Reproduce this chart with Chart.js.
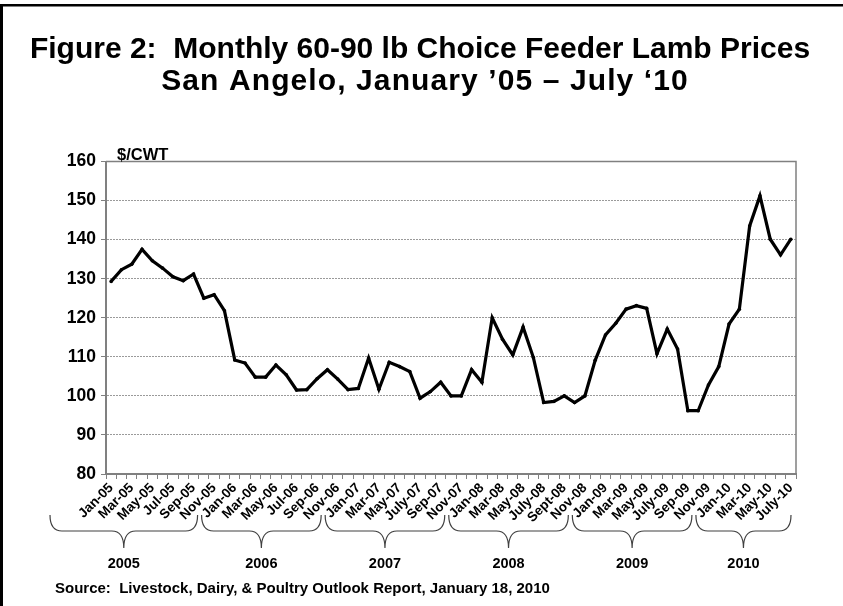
<!DOCTYPE html>
<html>
<head>
<meta charset="utf-8">
<script src="https://cdn.jsdelivr.net/npm/chart.js@4.4.0/dist/chart.umd.min.js"></script>
<style>
  html, body { margin: 0; padding: 0; background: #fff; }
  #wrap { position: relative; width: 843px; height: 606px; }
</style>
</head>
<body>
<div id="wrap"><canvas id="c"></canvas></div>
<script>
// Monthly categories, January 2005 through July 2010
const monthLabels = [
  'Jan-05','Feb-05','Mar-05','Apr-05','May-05','Jun-05','Jul-05','Aug-05','Sep-05','Oct-05','Nov-05','Dec-05',
  'Jan-06','Feb-06','Mar-06','Apr-06','May-06','Jun-06','Jul-06','Aug-06','Sep-06','Oct-06','Nov-06','Dec-06',
  'Jan-07','Feb-07','Mar-07','Apr-07','May-07','Jun-07','July-07','Aug-07','Sep-07','Oct-07','Nov-07','Dec-07',
  'Jan-08','Feb-08','Mar-08','Apr-08','May-08','Jun-08','July-08','Aug-08','Sept-08','Oct-08','Nov-08','Dec-08',
  'Jan-09','Feb-09','Mar-09','Apr-09','May-09','Jun-09','July-09','Aug-09','Sep-09','Oct-09','Nov-09','Dec-09',
  'Jan-10','Feb-10','Mar-10','Apr-10','May-10','Jun-10','July-10'
];

// 60-90 lb choice feeder lamb price, $/cwt
const prices = [
  129.3, 132.3, 133.7, 137.5, 134.6, 132.7, 130.5, 129.5, 131.2, 125.0, 125.9, 121.8,
  109.2, 108.4, 104.8, 104.8, 107.9, 105.4, 101.5, 101.6, 104.4, 106.7, 104.3, 101.6,
  101.9, 109.7, 101.7, 108.6, 107.5, 106.2,  99.4, 101.1, 103.5, 100.0, 100.0, 106.7,
  103.5, 120.0, 114.5, 110.5, 117.6, 109.8,  98.3,  98.6, 100.0,  98.3, 100.0, 109.1,
  115.6, 118.6, 122.2, 123.1, 122.4, 110.8, 117.1, 112.0,  96.2,  96.2, 102.8, 107.5,
  118.4, 122.2, 143.5, 151.2, 140.1, 136.1, 140.1
];

// Year groups under the month axis (first and last month index of each)
const yearNames = ['2005', '2006', '2007', '2008', '2009', '2010'];
const yearFirst = [0, 12, 24, 36, 48, 60];
const yearLast  = [11, 23, 35, 47, 59, 66];

const titleLines = [
  'Figure 2:  Monthly 60-90 lb Choice Feeder Lamb Prices',
  'San Angelo, January \u201905 \u2013 July \u201810'
];
const unitLabel = '$/CWT';
const sourceNote = 'Source:  Livestock, Dairy, & Poultry Outlook Report, January 18, 2010';

const FONT = '"Liberation Sans", Arial, sans-serif';

// Frame, title, plot border, unit label, year braces and source line
const decorations = {
  id: 'decorations',
  beforeDraw(chart) {
    const ctx = chart.ctx;
    ctx.save();
    ctx.fillStyle = '#fff';
    ctx.fillRect(0, 0, chart.width, chart.height);
    ctx.fillStyle = '#000';
    ctx.fillRect(0, 4, chart.width, 2.5);
    ctx.fillRect(0, 4, 3, chart.height);

    ctx.font = 'bold 30px ' + FONT;
    ctx.textAlign = 'center';
    ctx.textBaseline = 'middle';
    ctx.fillText(titleLines[0], 420, 50);
    if ('letterSpacing' in ctx) ctx.letterSpacing = '1.1px';
    ctx.fillText(titleLines[1], 425, 82);
    ctx.restore();
  },
  afterDatasetsDraw(chart) {
    const ctx = chart.ctx;
    const a = chart.chartArea;
    ctx.save();
    ctx.strokeStyle = '#808080';
    ctx.lineWidth = 1.5;
    ctx.beginPath();
    ctx.moveTo(a.left, a.top);
    ctx.lineTo(a.right, a.top);
    ctx.lineTo(a.right, a.bottom);
    ctx.stroke();
    ctx.restore();
  },
  afterDraw(chart) {
    const ctx = chart.ctx;
    const a = chart.chartArea;
    const xs = chart.scales.x;
    ctx.save();

    ctx.fillStyle = '#000';
    ctx.font = 'bold 16.5px ' + FONT;
    ctx.textAlign = 'left';
    ctx.textBaseline = 'alphabetic';
    ctx.fillText(unitLabel, a.left + 11, a.top - 2);

    const px = i => xs.getPixelForValue(i);
    const step = px(1) - px(0);
    const shift = 30;
    const y0 = 515, y1 = 531, y2 = 548, r = 12;
    ctx.strokeStyle = '#404040';
    ctx.lineWidth = 1.2;
    ctx.font = 'bold 14.5px ' + FONT;
    ctx.textAlign = 'center';
    ctx.textBaseline = 'middle';
    yearNames.forEach((name, k) => {
      let x1 = px(yearFirst[k]) - step / 2 - shift;
      let x2 = px(yearLast[k]) + step / 2 - shift;
      if (k === 0) x1 -= 28;
      if (k === yearNames.length - 1) x2 += 27;
      x1 += 2; x2 -= 2;
      const mid = (x1 + x2) / 2;
      ctx.beginPath();
      ctx.moveTo(x1, y0);
      ctx.quadraticCurveTo(x1, y1, x1 + r, y1);
      ctx.lineTo(mid - r, y1);
      ctx.quadraticCurveTo(mid, y1, mid, y2);
      ctx.quadraticCurveTo(mid, y1, mid + r, y1);
      ctx.lineTo(x2 - r, y1);
      ctx.quadraticCurveTo(x2, y1, x2, y0);
      ctx.stroke();
      ctx.fillText(name, mid, 564);
    });

    ctx.font = 'bold 15px ' + FONT;
    ctx.textAlign = 'left';
    ctx.fillText(sourceNote, 55, 589);
    ctx.restore();
  }
};

new Chart(document.getElementById('c'), {
  type: 'line',
  data: {
    labels: monthLabels,
    datasets: [{
      data: prices,
      borderColor: '#000',
      backgroundColor: '#000',
      borderWidth: 3.2,
      pointRadius: 1.8,
      pointBorderWidth: 0,
      tension: 0,
      fill: false
    }]
  },
  options: {
    responsive: true,
    maintainAspectRatio: false,
    animation: false,
    layout: { padding: { left: 0, right: 47, top: 161.5, bottom: 0 } },
    plugins: {
      legend: { display: false },
      tooltip: { enabled: false },
      title: { display: false }
    },
    scales: {
      x: {
        offset: true,
        afterFit(scale) { scale.height = 132; },
        grid: {
          offset: true,
          drawOnChartArea: false,
          drawTicks: true,
          tickLength: 5,
          tickColor: '#808080',
          tickWidth: 1
        },
        border: { display: true, color: '#808080', width: 2 },
        ticks: {
          autoSkip: false,
          minRotation: 45,
          maxRotation: 45,
          padding: 1,
          color: '#000',
          font: { family: FONT, size: 13.5, weight: 'bold' },
          callback: (v, i) => (i % 2 === 0 ? monthLabels[i] : '')
        }
      },
      y: {
        min: 80,
        max: 160,
        afterFit(scale) { scale.width = 106; },
        grid: {
          color: '#9a9a9a',
          lineWidth: 1,
          drawTicks: true,
          tickLength: 5,
          tickColor: '#808080'
        },
        border: { display: true, color: '#808080', width: 2, dash: [2, 1] },
        ticks: {
          stepSize: 10,
          padding: 5,
          color: '#000',
          font: { family: FONT, size: 17.5, weight: 'bold' }
        }
      }
    }
  },
  plugins: [decorations]
});
</script>
</body>
</html>
